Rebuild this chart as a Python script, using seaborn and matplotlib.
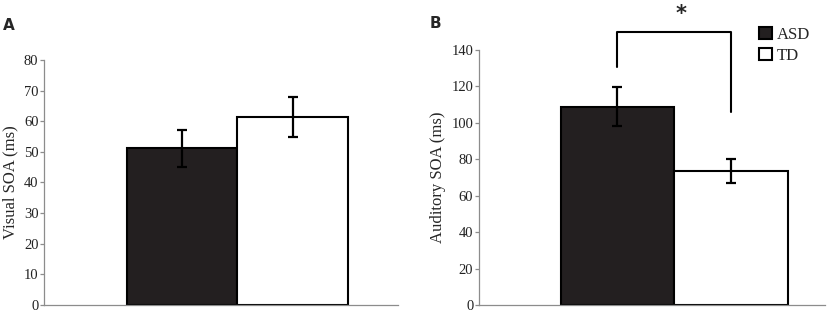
import pandas as pd
import matplotlib.pyplot as plt
import seaborn as sns

# data
groups = ['ASD', 'TD']
visual_soa = [51.2, 61.5]
visual_err = [6.0, 6.5]
auditory_soa = [108.8, 73.6]
auditory_err = [10.6, 6.7]

sns.set_style('white')
plt.rcParams['font.family'] = ['Liberation Serif', 'DejaVu Serif']

palette = {'ASD': '#231f20', 'TD': 'white'}
df_vis = pd.DataFrame({'group': groups, 'soa': visual_soa, 'err': visual_err})
df_aud = pd.DataFrame({'group': groups, 'soa': auditory_soa, 'err': auditory_err})

fig = plt.figure(figsize=(8.27, 3.14), dpi=100)
ax1 = fig.add_axes([0.0532, 0.0287, 0.428, 0.7803])
ax2 = fig.add_axes([0.579, 0.0287, 0.4186, 0.8123])


def draw_panel(ax, df, ylim, step, ylabel):
    sns.barplot(data=df, x='group', y='soa', hue='group', palette=palette,
                width=1.0, errorbar=None, edgecolor='black', linewidth=1.5,
                legend=False, saturation=1, ax=ax)
    ax.errorbar(range(len(df)), df['soa'], yerr=df['err'], fmt='none',
                ecolor='black', elinewidth=1.6, capsize=3.5, capthick=1.6)
    ax.set_ylim(0, ylim)
    ax.set_yticks(range(0, ylim + 1, step))
    ax.set_xticks([])
    ax.set_xlabel('')
    ax.set_ylabel(ylabel, fontsize=12, labelpad=4)
    for s in ['top', 'right']:
        ax.spines[s].set_visible(False)
    for s in ['left', 'bottom']:
        ax.spines[s].set_color('#8c8c8c')
        ax.spines[s].set_linewidth(0.9)
    ax.tick_params(axis='y', left=True, length=3, width=0.9, color='#8c8c8c',
                   pad=1, labelsize=10.5, labelcolor='#222222')


draw_panel(ax1, df_vis, 80, 10, 'Visual SOA (ms)')
ax1.set_xlim(-1.251, 1.952)

draw_panel(ax2, df_aud, 140, 20, 'Auditory SOA (ms)')
ax2.set_xlim(-1.219, 1.825)

# significance bracket
ax2.plot([0, 0, 1, 1], [130.5, 149.8, 149.8, 106], color='black', lw=1.5,
         clip_on=False)
fig.text(681 / 827, 1 - 14 / 314, '*', ha='center', va='center', fontsize=15,
         fontweight='bold', family='DejaVu Sans')

# legend
handles = [plt.Rectangle((0, 0), 1, 1, facecolor=palette[g], edgecolor='black',
                         linewidth=1.5) for g in groups]
fig.legend(handles, groups, loc='upper left',
           bbox_to_anchor=(759 / 827, 1 - 27 / 314), frameon=False,
           fontsize=12, handlelength=0.75, handleheight=0.75,
           handletextpad=0.3, labelspacing=0.3, borderpad=0, borderaxespad=0)

# panel letters
fig.text(3 / 827, 1 - 25 / 314, 'A', fontsize=11, fontweight='bold',
         family='DejaVu Sans', va='center')
fig.text(430 / 827, 1 - 23 / 314, 'B', fontsize=11, fontweight='bold',
         family='DejaVu Sans', va='center')

plt.savefig('out.png', dpi=100)
